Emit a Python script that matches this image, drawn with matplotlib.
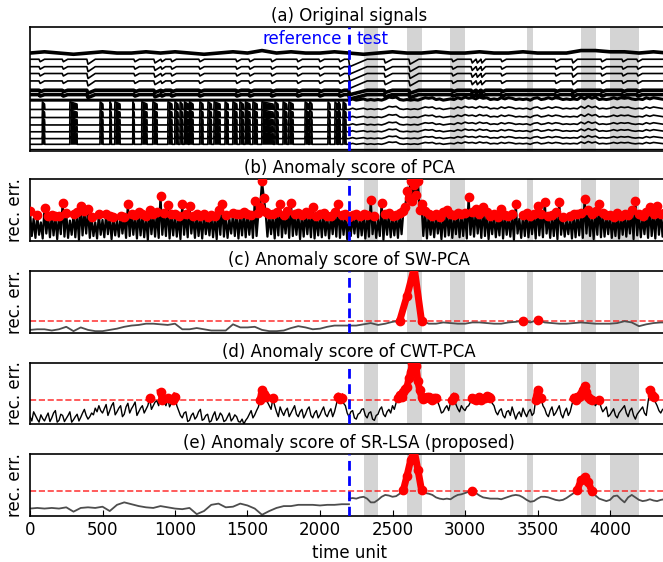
import numpy as np
import matplotlib.pyplot as plt

# ---- shared time axis info ----
split_t = 2200
t_end = 4400
anomaly_spans = [(2300, 2400), (2600, 2700), (2900, 3000), (3430, 3470), (3800, 3900), (4000, 4200)]
xtick_vals = [0, 500, 1000, 1500, 2000, 2500, 3000, 3500, 4000]

# ---- (a) original signals: levels as fraction of panel height ----
top_base = 0.79
top_wig = [0, 1, 0, -1, 0, 1, 0, 0, 1, 0, 1, 0, -1, 0, 1, 0, 2, 0, 1, 0,
           0, 1, 0, -1, 0, 1, 0, 0, 1, 0, 0, 1, 0, 0, 1, 0, 0, 0, 2, 2,
           1, 1, 0, 1, 0]  # every 100 units, hundredths
thin_bases = [0.74, 0.68, 0.625, 0.565]
thick_bases = [0.49, 0.455]
noisy_base = 0.41
burst_bases = [0.335, 0.27, 0.21, 0.155, 0.10, 0.054]
flat_base = 0.02
dip_t = [70, 230, 400, 724, 862, 910, 979, 1172, 1427, 1517, 1669, 1848, 2000, 2138,
         2205, 2450, 2621, 2917, 3050, 3085, 3117, 3255, 3628, 3745, 3945, 4090, 4193]
dip_d = [2, 2, 4, 2, 3, 2, 2, 2, 2, 2, 2, 2, 2, 2,
         6, 3, 4, 2, 3, 3, 3, 2, 2, 3, 2, 2, 2]
dip_w = [30, 30, 50, 30, 40, 25, 30, 30, 30, 30, 30, 30, 30, 30,
         120, 50, 60, 30, 25, 25, 25, 30, 30, 30, 30, 30, 30]
burst_start = [85, 276, 483, 552, 586, 710, 772, 848, 952, 1000, 1035, 1065, 1100, 1172, 1228,
               1270, 1345, 1400, 1448, 1485, 1538, 1600, 1690, 1745, 1785, 1897, 1930, 2055,
               2103, 2128, 2159]
burst_end = [100, 324, 503, 560, 621, 718, 807, 876, 979, 1020, 1050, 1090, 1124, 1193, 1250,
             1310, 1366, 1427, 1470, 1517, 1566, 1676, 1710, 1770, 1814, 1920, 1945, 2069,
             2118, 2138, 2179]
test_wig = [0, 1, 0, 0.5, 1, 0, 0.5, 0, 0.5, 0, 1, 2.5, 2, 2.5, 0.5, 0, 0.5, 0, 0.5, 0,
            1, 2, 1.5, 2, 0.5, 1, 0, 0.5, 1, 0.5, 2, 1, 2.5, 1.5, 2, 1, 2.5, 1.5, 2, 0.5,
            1, 0.5, 2, 1, 2, 1.5, 0.5, 1, 0.5, 1, 0, 1.5, 2, 0.5, 1, 2, 1, 2, 1.5, 0.5,
            1, 0.5, 1, 0.5, 2.5, 1, 3, 1.5, 2.5, 0.5, 1, 0.5, 1, 2, 1, 2, 1.5, 2, 1, 0.5,
            1, 0.5, 2, 1, 2, 1.5, 1, 0.5, 1]  # every 25 units from 2200

# ---- (b) PCA: peaks every 25 units, troughs in between ----
pca_hi = [48, 36, 42, 30, 53, 40, 42, 40, 41, 62, 45, 33, 44, 46, 57, 48, 51, 38, 30, 43,
          34, 43, 40, 38, 35, 41, 39, 59, 44, 42, 47, 43, 40, 50, 44, 46, 72, 45, 58, 44,
          43, 40, 59, 44, 56, 41, 44, 40, 43, 38, 42, 40, 50, 59, 42, 36, 45, 44, 43, 47,
          44, 42, 64, 45, 96, 46, 43, 44, 47, 59, 42, 48, 61, 43, 45, 42, 47, 44, 55, 41,
          43, 45, 40, 41, 46, 59, 42, 44, 38, 42, 44, 40, 43, 42, 66, 40, 36, 62, 44, 45,
          40, 42, 45, 48, 80, 96, 90, 96, 60, 48, 44, 40, 43, 38, 47, 50, 44, 42, 45, 43,
          45, 71, 47, 52, 44, 55, 46, 40, 43, 38, 52, 42, 40, 43, 59, 36, 42, 45, 40, 44,
          57, 44, 63, 40, 42, 46, 63, 38, 35, 40, 43, 44, 45, 68, 50, 44, 48, 60, 45, 42,
          42, 38, 45, 40, 44, 42, 50, 65, 44, 40, 46, 55, 43, 56, 44, 45, 42]
pca_lo = [8, 5, 10, 4, 12, 6, 9, 3, 11, 7, 5, 10, 6, 2, 9, 12, 5, 8, 4, 10,
          6, 11, 3, 9, 7, 12, 5, 8, 10, 4, 9, 6, 2, 11, 7, 5, 10, 8, 4, 9,
          7, 3, 10, 6, 12, 5, 8, 4, 11, 9, 6, 3, 10, 7, 5, 12, 8, 4, 9, 6,
          10, 5, 8, 55, 70, 7, 11, 4, 9, 6, 12, 5, 8, 10, 3, 7, 11, 6, 4, 9,
          6, 9, 4, 11, 7, 5, 10, 3, 8, 12, 6, 9, 4, 7, 11, 5, 8, 2, 10, 6,
          9, 5, 11, 55, 70, 65, 75, 50, 8, 4, 10, 6, 12, 3, 7, 9, 5, 11, 6, 8,
          4, 10, 7, 12, 5, 8, 3, 11, 6, 9, 4, 10, 7, 2, 12, 5, 8, 6, 11, 4,
          9, 6, 12, 5, 8, 3, 10, 7, 11, 4, 6, 9, 5, 12, 8, 3, 10, 6, 7, 11,
          5, 8, 4, 10, 7, 12, 3, 9, 6, 11, 5, 8, 4, 10, 7, 9]
pca_thr = 37

# ---- (c) SW-PCA, every 50 units ----
swpca = [5, 6, 6, 4, 6, 10, 3, 9, 5, 3, 3, 5, 7, 10, 12, 13, 15, 15, 14, 13,
         15, 6, 6, 8, 6, 4, 4, 4, 14, 9, 9, 10, 5, 3, 3, 4, 8, 11, 9, 6,
         7, 10, 12, 12, 12, 12, 14, 16, 13, 15, 18, 20, 60, 105, 20, 15, 15, 17, 16, 15,
         15, 17, 17, 16, 15, 15, 17, 18, 20, 17, 21, 17, 16, 15, 15, 16, 17, 16, 15, 15,
         15, 16, 19, 17, 11, 14, 16, 17, 17]
swpca_thr = 20

# ---- (d) CWT-PCA, every 25 units plus in-between samples ----
cwt = [12, 20, 8, 15, 5, 18, 10, 22, 6, 14, 9, 20, 7, 16, 11, 24, 8, 18, 26, 30,
       18, 32, 22, 35, 20, 30, 16, 34, 25, 36, 20, 30, 24, 42, 30, 38, 52, 36, 42, 34,
       45, 22, 10, 20, 6, 18, 12, 24, 8, 16, 5, 20, 10, 14, 6, 18, 9, 12, 3, 0,
       10, 22, 15, 28, 56, 45, 30, 42, 20, 28, 14, 26, 18, 30, 12, 24, 16, 28, 10, 22,
       15, 28, 12, 25, 20, 44, 43, 30, 12, 22, 8, 18, 25, 10, 20, 6, 16, 28, 12, 24,
       30, 35, 48, 52, 60, 85, 105, 70, 45, 42, 44, 40, 42, 28, 20, 30, 35, 44, 25, 30,
       22, 30, 42, 40, 45, 38, 46, 42, 30, 15, 25, 10, 22, 28, 8, 20, 26, 12, 24, 18,
       56, 42, 25, 12, 28, 18, 30, 10, 26, 20, 42, 45, 50, 62, 45, 40, 30, 40, 20, 28,
       15, 25, 10, 22, 30, 12, 26, 8, 20, 28, 14, 55, 45, 30, 18, 25, 20]
cwt_mid = [5, 14, 3, 9, 12, 4, 18, 3, 16, 4, 14, 3, 12, 5, 18, 14, 12, 15, 20, 22,
           25, 14, 30, 15, 26, 12, 28, 18, 30, 14, 26, 18, 30, 24, 36, 30, 40, 30, 28, 40,
           30, 14, 18, 4, 14, 8, 20, 6, 14, 3, 14, 6, 18, 4, 12, 5, 15, 4, 8, 6,
           16, 10, 22, 40, 50, 36, 24, 30, 12, 20, 22, 12, 24, 16, 20, 10, 24, 14, 18, 10,
           22, 16, 20, 12, 32, 41, 34, 18, 20, 10, 16, 24, 14, 18, 8, 14, 24, 16, 20, 18,
           24, 42, 45, 58, 75, 100, 95, 55, 41, 45, 41, 43, 36, 18, 26, 22, 40, 32, 20, 25,
           28, 36, 41, 43, 40, 42, 44, 34, 20, 22, 14, 20, 14, 18, 16, 12, 18, 20, 14, 40,
           45, 30, 16, 22, 14, 24, 16, 20, 14, 32, 40, 44, 56, 52, 41, 34, 36, 28, 24, 12,
           20, 14, 18, 26, 18, 22, 14, 16, 24, 18, 36, 48, 36, 22, 24, 16]
cwt_thr = 39

# ---- (e) SR-LSA: reference part every 50, test part every 25 ----
srlsa_ref = [12, 13, 12, 13, 12, 14, 7, 13, 14, 13, 15, 8, 18, 22, 19, 16, 14, 13, 16, 14,
             12, 11, 13, 3, 8, 18, 20, 14, 15, 20, 17, 12, 2, 8, 13, 16, 16, 18, 18, 18,
             17, 18, 18, 19, 19]
srlsa_test = [28, 29, 28, 30, 31, 28, 22, 22, 26, 31, 34, 33, 31, 32, 36, 42, 65, 90, 105, 75,
              42, 37, 36, 34, 30, 28, 27, 28, 27, 31, 34, 35, 37, 39, 40, 37, 33, 30, 29, 28,
              28, 28, 27, 29, 31, 33, 34, 33, 30, 26, 23, 24, 28, 31, 31, 30, 28, 26, 25, 26,
              29, 33, 37, 42, 58, 63, 55, 40, 33, 28, 26, 24, 26, 32, 33, 27, 22, 30, 34, 30,
              26, 24, 25, 27, 25, 24, 26, 27, 27]
srlsa_thr = 40

titles = ['(a) Original signals', '(b) Anomaly score of PCA', '(c) Anomaly score of SW-PCA',
          '(d) Anomaly score of CWT-PCA', '(e) Anomaly score of SR-LSA (proposed)']


def interleave(main, between, step):
    xs, ys = [], []
    for i, v in enumerate(main):
        xs.append(step * i)
        ys.append(v)
        if i < len(between):
            xs.append(step * i + step / 2)
            ys.append(between[i])
    return np.array(xs, dtype=float), np.array(ys, dtype=float)


# ---- figure layout (pixel-matched) ----
fig = plt.figure(figsize=(6.63, 5.62), dpi=100)
W, H = 663.0, 562.0
left = 30 / W
width = 638 / W
boxes = [(27, 151), (179, 241), (271, 333), (363, 424), (454, 516)]
axes = [fig.add_axes([left, 1 - b / H, width, (b - t) / H]) for t, b in boxes]

for i, ax in enumerate(axes):
    ax.set_xlim(0, t_end)
    ax.set_title(titles[i], fontsize=12, pad=4)
    for s, e in anomaly_spans:
        ax.axvspan(s, e, color='0.83', lw=0, zorder=0)
    ax.axvline(split_t, color='b', ls='--', lw=2, dashes=(3.5, 2), zorder=5)
    ax.set_yticks([])
    for sp in ax.spines.values():
        sp.set_linewidth(1.2)
    if i > 0:
        ax.set_ylim(0, 100)
        ax.set_ylabel('rec. err.', fontsize=12)
    if i < 4:
        ax.set_xticks([])

# (a) original signals
ax = axes[0]
ax.set_ylim(0, 1)
xw = 100 * np.arange(len(top_wig))
ax.plot(xw, top_base + np.array(top_wig) / 100, 'k', lw=2.6)


def dip_trace(base, scale=1.0):
    xs, ys = [0], [base]
    for t, d, w in zip(dip_t, dip_d, dip_w):
        xs += [t - 8, t, t + w]
        ys += [base, base - scale * d / 100, base]
    xs.append(t_end)
    ys.append(base)
    return xs, ys


for b in thin_bases:
    ax.plot(*dip_trace(b), 'k', lw=1.2)
for b in thick_bases:
    ax.plot(*dip_trace(b, 0.6), 'k', lw=2.6)

xb = np.arange(0, split_t + 1, 2.0)
level = np.zeros_like(xb)
for s, e in zip(burst_start, burst_end):
    m = (xb >= s) & (xb <= e)
    level[m] = 1 - 0.3 * (xb[m] - s) / max(e - s, 1)
xt = split_t + 25 * np.arange(len(test_wig))
wig = np.array(test_wig) / 100
ax.plot(np.r_[0, split_t, xt], np.r_[noisy_base, noisy_base, noisy_base + wig], 'k', lw=2.2)
for k, b in enumerate(burst_bases):
    y_ref = b + 0.062 * level
    ax.fill_between(xb, b, y_ref, color='k', lw=0)
    ax.plot(np.r_[xb, xt], np.r_[y_ref, b + wig * (1 - 0.05 * k)], 'k', lw=1.2)
ax.axhline(flat_base, color='k', lw=1.0)
ax.text(split_t - 50, 0.9, 'reference', color='b', fontsize=12, ha='right', va='center')
ax.text(split_t + 50, 0.9, 'test', color='b', fontsize=12, ha='left', va='center')

# (b) PCA
ax = axes[1]
xp, yp = interleave(pca_hi, pca_lo, 25)
ax.plot(xp, yp, 'k', lw=1.6, zorder=2)
hit = yp >= pca_thr
ax.plot(xp[hit], yp[hit], 'o', color='r', mec='r', ms=6, zorder=3)


def score_panel(ax, x, y, thr, color, lw):
    y = np.asarray(y, dtype=float)
    ax.plot(x, y, color=color, lw=lw, zorder=2)
    red = np.where(y >= thr, y, np.nan)
    ax.plot(x, red, color='r', lw=5, marker='o', ms=6, mec='r', zorder=3)
    ax.axhline(thr, color='r', ls='--', lw=1.2, alpha=0.75, zorder=1)


# (c) SW-PCA
score_panel(axes[2], 50 * np.arange(len(swpca)), swpca, swpca_thr, '0.3', 1.3)

# (d) CWT-PCA
xc, yc = interleave(cwt, cwt_mid, 25)
score_panel(axes[3], xc, yc, cwt_thr, 'k', 1.0)

# (e) SR-LSA
ax = axes[4]
x_ref = 50 * np.arange(len(srlsa_ref))
x_test = split_t + 25 * np.arange(len(srlsa_test))
ax.plot(x_ref, srlsa_ref, color='0.3', lw=1.3, zorder=2)
score_panel(ax, x_test, srlsa_test, srlsa_thr, '0.3', 1.3)
ax.set_xticks(xtick_vals)
ax.tick_params(axis='x', labelsize=12, direction='in', length=4, top=False)
ax.set_xlabel('time unit', fontsize=12)

fig.savefig('out.png', dpi=100)
